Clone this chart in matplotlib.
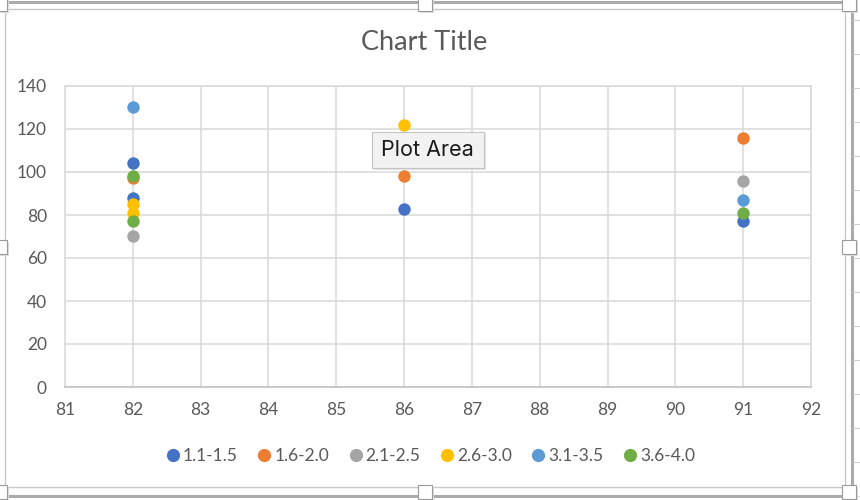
import matplotlib
matplotlib.use("Agg")
import matplotlib.pyplot as plt
from matplotlib.patches import Rectangle, FancyBboxPatch
from matplotlib.lines import Line2D

# ---- data ----
series_names = ["1.1-1.5", "1.6-2.0", "2.1-2.5", "2.6-3.0", "3.1-3.5", "3.6-4.0"]
series_colors = ["#4472C4", "#ED7D31", "#A5A5A5", "#FFC000", "#5B9BD5", "#70AD47"]
x_s1 = [82, 82, 86, 91]
y_s1 = [104, 88, 83, 77]
x_s2 = [82, 86, 91]
y_s2 = [97, 98, 116]
x_s3 = [82, 91]
y_s3 = [70, 96]
x_s4 = [82, 82, 86]
y_s4 = [85, 81, 122]
x_s5 = [82, 91]
y_s5 = [130, 87]
x_s6 = [82, 82, 91]
y_s6 = [98, 77, 81]
xs = [x_s1, x_s2, x_s3, x_s4, x_s5, x_s6]
ys = [y_s1, y_s2, y_s3, y_s4, y_s5, y_s6]
x_ticks = list(range(81, 93))
y_ticks = list(range(0, 141, 20))
title = "Chart Title"
tooltip = "Plot Area"

W, H = 860, 500
FONT = "Lato"
TXT = "#595959"
FS = 12.5

fig = plt.figure(figsize=(W / 100, H / 100), dpi=100)

def fx(px):
    return px / W

def fy(py):
    return 1 - py / H

ax = fig.add_axes([fx(65), fy(387), fx(811) - fx(65), fy(86) - fy(387)])
for xv, yv, c, n in zip(xs, ys, series_colors, series_names):
    ax.scatter(xv, yv, s=80, color=c, label=n, zorder=3, linewidths=0)

ax.set_xlim(81, 92)
ax.set_ylim(0, 140)
ax.set_xticks(x_ticks)
ax.set_yticks(y_ticks)
ax.grid(True, color="#D9D9D9", linewidth=1.1, zorder=0)
for s in ["left", "top", "right"]:
    ax.spines[s].set_color("#D9D9D9")
    ax.spines[s].set_linewidth(1.1)
ax.spines["bottom"].set_color("#BFBFBF")
ax.spines["bottom"].set_linewidth(1.1)
ax.tick_params(length=0, labelsize=FS, labelcolor=TXT)
ax.tick_params(axis="y", pad=13)
ax.tick_params(axis="x", pad=11)
for lab in ax.get_xticklabels() + ax.get_yticklabels():
    lab.set_fontfamily(FONT)

fig.text(fx(424), fy(42), title, ha="center", va="center", fontsize=19.5,
         color=TXT, family=FONT)

handles = [Line2D([], [], marker="o", linestyle="none", markersize=9.5,
                  markerfacecolor=c, markeredgewidth=0) for c in series_colors]
leg = fig.legend(handles, series_names, loc="center", ncol=6,
                 bbox_to_anchor=(fx(429), fy(456)), frameon=False,
                 handletextpad=0.0, columnspacing=0.95, handlelength=1.15,
                 prop={"family": FONT, "size": FS})
for t in leg.get_texts():
    t.set_color(TXT)

# ---- chart frame (Excel selection look) ----
def rect_px(x0, y0, x1, y1, **kw):
    r = Rectangle((fx(x0), fy(y1)), fx(x1) - fx(x0), fy(y0) - fy(y1),
                  transform=fig.transFigure, **kw)
    fig.add_artist(r)
    return r

def line_px(xa, ya, xb, yb, **kw):
    fig.add_artist(Line2D([fx(xa), fx(xb)], [fy(ya), fy(yb)],
                          transform=fig.transFigure, **kw))

# spreadsheet outer lines
line_px(0, 1.5, 852, 1.5, color="#ABABAB", linewidth=2.2)
line_px(852, 0, 852, 500, color="#ABABAB", linewidth=2.2)
line_px(0, 496, 852, 496, color="#ABABAB", linewidth=2.2)
for yy in range(20, 500, 34):
    line_px(853, yy, 860, yy, color="#CFCFCF", linewidth=0.8)
# chart border
rect_px(5, 9, 845, 487, fill=False, edgecolor="#C8C8C8", linewidth=1.0)
# handles
for hx, hy in [(0, 4), (425, 4), (849, 4), (0, 247), (849, 247),
               (0, 492), (425, 492), (849, 492)]:
    rect_px(hx - 7 + 1.5, hy - 7 + 1.5, hx + 7 + 1.5, hy + 7 + 1.5,
            facecolor="#DDDDDD", edgecolor="none", zorder=9)
    rect_px(hx - 7, hy - 7, hx + 7, hy + 7, facecolor="white",
            edgecolor="#9A9A9A", linewidth=0.8, zorder=10)

# tooltip
sh = FancyBboxPatch((fx(374), fy(170)), fx(484) - fx(372), fy(132) - fy(168),
                    boxstyle="square,pad=0", transform=fig.transFigure,
                    facecolor="#E4E4E4", edgecolor="none", zorder=11)
fig.add_artist(sh)
tb = FancyBboxPatch((fx(372), fy(168)), fx(484) - fx(372), fy(132) - fy(168),
                    boxstyle="square,pad=0", transform=fig.transFigure,
                    facecolor="#F2F2F2", edgecolor="#C4C4C4", linewidth=0.8,
                    zorder=12)
fig.add_artist(tb)
fig.text(fx(427), fy(150), tooltip, ha="center", va="center", fontsize=15.5,
         color="#1A1A1A", family="Inter", zorder=13)

fig.savefig("out.png", dpi=100)
